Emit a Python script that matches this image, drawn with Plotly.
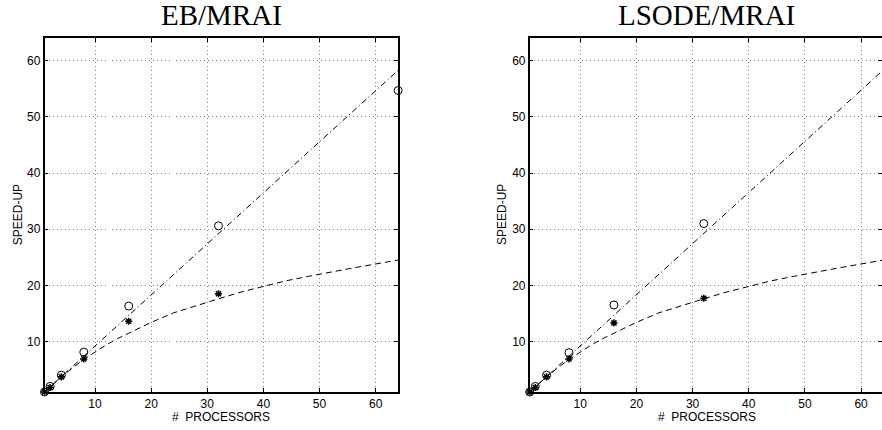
import plotly.graph_objects as go

# ---------------- data ----------------
procs = [1, 2, 4, 8, 16, 32, 64]
procs_star = [1, 2, 4, 8, 16, 32]

eb_circle = [1.0, 2.0, 4.0, 8.1, 16.3, 30.6, 54.7]
eb_star = [1.0, 1.8, 3.7, 6.9, 13.6, 18.5]

lsode_circle = [1.0, 2.0, 4.0, 8.0, 16.5, 31.0, 55.9]
lsode_star = [1.0, 1.8, 3.7, 6.9, 13.3, 17.7]

# fitted lines
lin_fit_x = [1, 64]
eb_lin_fit_y = [1.0, 58.3]
lsode_lin_fit_y = [1.0, 58.4]

curve_fit_x = [1, 2, 3, 4, 6, 8, 10, 12, 14, 16, 20, 24, 28, 32, 36, 40, 44, 48, 52, 56, 60, 64]
eb_curve_fit_y = [1.0, 1.95, 2.85, 3.7, 5.3, 6.8, 8.1, 9.4, 10.5, 11.5, 13.4, 15.1,
                  16.4, 17.6, 18.8, 19.8, 20.8, 21.6, 22.4, 23.1, 23.8, 24.5]
lsode_curve_fit_y = [1.0, 1.95, 2.85, 3.7, 5.3, 6.8, 8.1, 9.4, 10.5, 11.5, 13.4, 15.1,
                     16.4, 17.6, 18.8, 19.8, 20.8, 21.6, 22.4, 23.1, 23.8, 24.5]

tick_vals = [10, 20, 30, 40, 50, 60]
titles = ["EB/MRAI", "LSODE/MRAI"]
x_title = "#  PROCESSORS"
y_title = "SPEED-UP"

W, H = 882, 430

fig = go.Figure()

panels = [
    ("x", "y", eb_circle, eb_star, eb_lin_fit_y, eb_curve_fit_y),
    ("x2", "y2", lsode_circle, lsode_star, lsode_lin_fit_y, lsode_curve_fit_y),
]
for xa, ya, circ, star, linf, curf in panels:
    fig.add_trace(go.Scatter(x=lin_fit_x, y=linf, mode="lines", xaxis=xa, yaxis=ya,
                             line=dict(color="black", width=1, dash="6px,3px,1px,3px"),
                             showlegend=False, hoverinfo="skip"))
    fig.add_trace(go.Scatter(x=curve_fit_x, y=curf, mode="lines", xaxis=xa, yaxis=ya,
                             line=dict(color="black", width=1, dash="6px,4px"),
                             showlegend=False, hoverinfo="skip"))
    fig.add_trace(go.Scatter(x=procs, y=circ, mode="markers", xaxis=xa, yaxis=ya,
                             marker=dict(symbol="circle-open", size=8, color="black",
                                         line=dict(width=1, color="black")),
                             cliponaxis=False, showlegend=False))
    fig.add_trace(go.Scatter(x=procs_star, y=star, mode="markers", xaxis=xa, yaxis=ya,
                             marker=dict(symbol="asterisk-open", size=6, color="black",
                                         line=dict(width=1.5, color="black")),
                             cliponaxis=False, showlegend=False))

tickfont = dict(family="Liberation Sans, Arial, sans-serif", size=12, color="black")
common_axis = dict(
    showline=True, linecolor="black", linewidth=1.5,
    showgrid=True, gridcolor="#808080", gridwidth=1, griddash="1px,3px",
    zeroline=False, ticks="inside", ticklen=4, tickcolor="black",
    tickvals=tick_vals, tickfont=tickfont, automargin=False, mirror="allticks",
)

def px_x(p):
    return p / W

def px_y(p):
    return 1 - p / H

left_dom = [px_x(44.5), px_x(398.1)]
right_dom = [px_x(529.7), 1.0]
y_dom = [px_y(392), px_y(38.3)]

fig.update_layout(
    width=W, height=H,
    margin=dict(l=0, r=0, t=0, b=0),
    paper_bgcolor="white", plot_bgcolor="white",
    xaxis=dict(domain=left_dom, range=[1, 64], anchor="y", **common_axis),
    yaxis=dict(domain=y_dom, range=[1, 64], anchor="x", **common_axis),
    xaxis2=dict(domain=right_dom, range=[1, 63.73], anchor="y2", **common_axis),
    yaxis2=dict(domain=y_dom, range=[1, 64], anchor="x2", **common_axis),
)

annos = []
for t, cpx in zip(titles, [(44.5 + 398.1) / 2, (529.7 + 883.5) / 2]):
    cx = px_x(cpx)
    annos.append(dict(text=t, x=cx, y=px_y(15.5), xref="paper", yref="paper",
                      xanchor="center", yanchor="middle", showarrow=False,
                      font=dict(family="Liberation Serif, Times New Roman, serif", size=29, color="black")))
    annos.append(dict(text=x_title, x=cx, y=px_y(417.3), xref="paper", yref="paper",
                      xanchor="center", yanchor="middle", showarrow=False,
                      font=tickfont))
annos.append(dict(text=y_title, x=px_x(18.3), y=px_y(215), xref="paper", yref="paper",
                  xanchor="center", yanchor="middle", textangle=-90, showarrow=False, font=tickfont))
annos.append(dict(text=y_title, x=px_x(502), y=px_y(215), xref="paper", yref="paper",
                  xanchor="center", yanchor="middle", textangle=-90, showarrow=False, font=tickfont))
fig.update_layout(annotations=annos)

fig.write_html("out.html", config={"displayModeBar": False},
               post_script="document.body.style.margin='0';")
